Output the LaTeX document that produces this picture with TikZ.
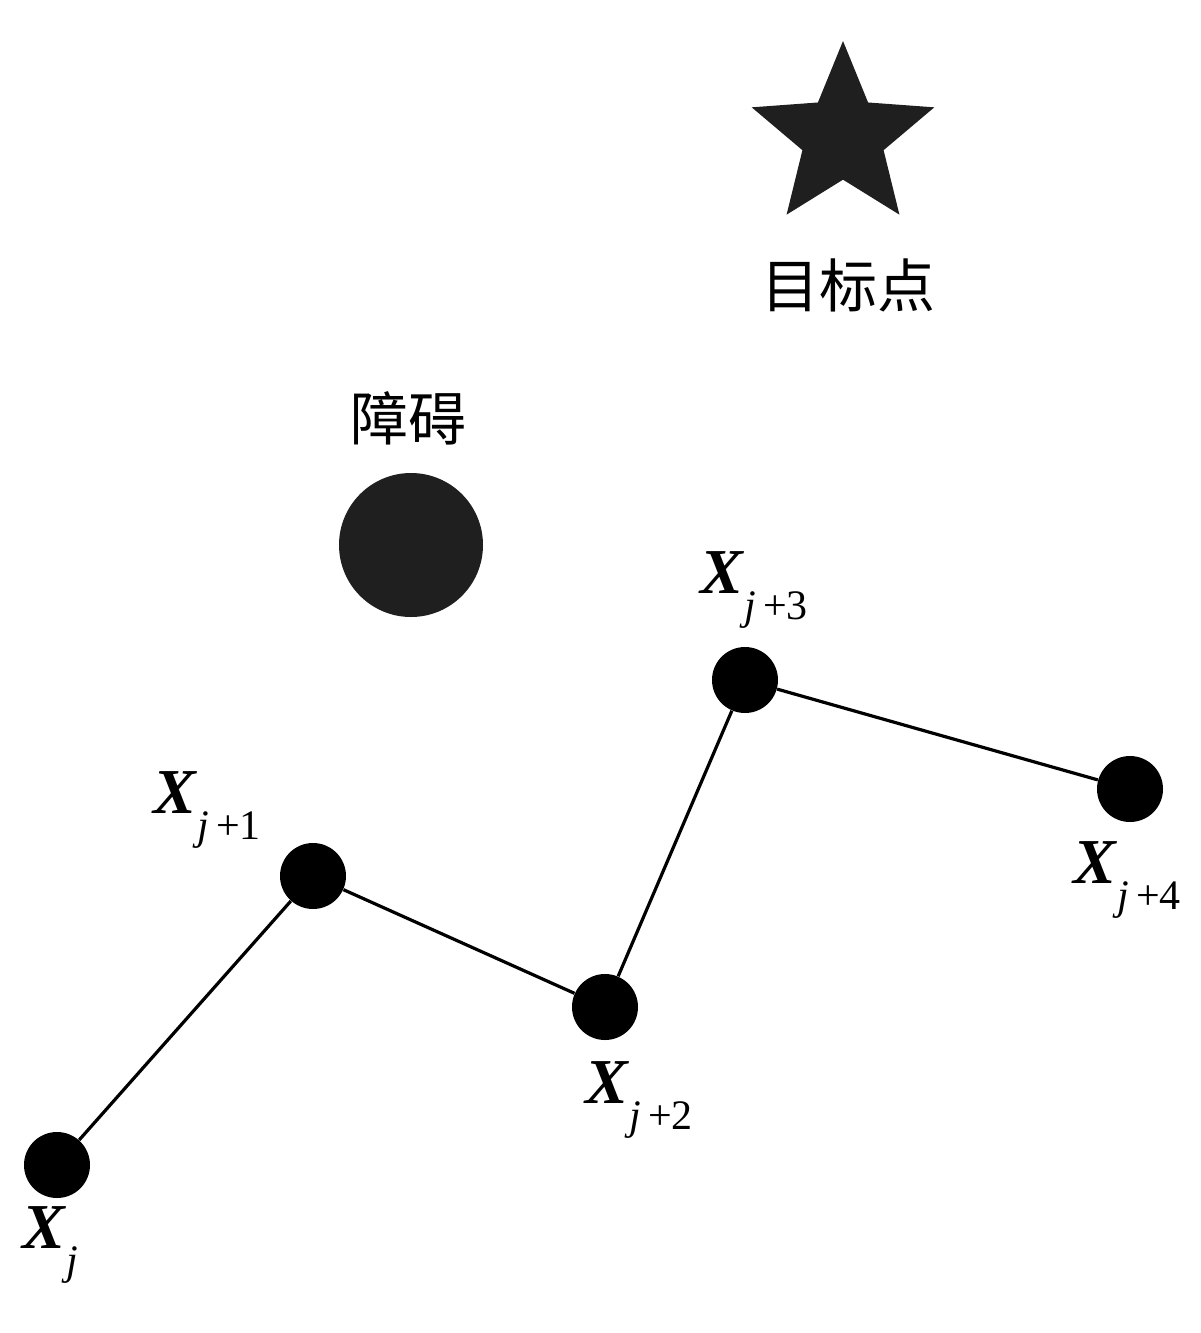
\documentclass[tikz,border=0pt]{standalone}
\usepackage{fontspec}
\setmainfont{Liberation Serif}
\newfontfamily\cjk{Noto Sans CJK SC}
\usetikzlibrary{shapes.geometric}
\tikzset{
  pt/.style={circle,fill=black,inner sep=0pt,minimum size=33pt},
  link/.style={line width=1.6pt,black},
  lab/.style={inner sep=0pt,font=\fontsize{32}{34}\selectfont},
  cjklab/.style={inner sep=0pt,font=\cjk\fontsize{29}{31}\selectfont}
}
\newcommand{\xlab}[1]{\textbf{\textit{X}}\raisebox{-0.4em}{\fontsize{21}{23}\selectfont\textit{j}\,#1}}
\begin{document}
\begin{tikzpicture}[x=0.5pt,y=-0.5pt]
\useasboundingbox (0,0) rectangle (1200,1333);
% target star
\node[star,star points=5,star point ratio=2.25,fill=black!88,inner sep=0pt,minimum size=96pt] (star) at (843,137) {};
\node[cjklab] (tgt) at (848,285) {目标点};
% obstacle
\node[cjklab] (obl) at (408,418) {障碍};
\node[circle,fill=black!88,inner sep=0pt,minimum size=72pt] (obs) at (411,545) {};
% path nodes
\node[pt] (x0) at (57,1165) {};
\node[pt] (x1) at (313,876) {};
\node[pt] (x2) at (605,1007) {};
\node[pt] (x3) at (745,680) {};
\node[pt] (x4) at (1130,789) {};
\draw[link] (x0) -- (x1) -- (x2) -- (x3) -- (x4);
% labels
\node[lab,anchor=west] (l0) at (22,1245) {\xlab{}};
\node[lab,anchor=west] (l1) at (153,810) {\xlab{+1}};
\node[lab,anchor=west] (l2) at (585,1100) {\xlab{+2}};
\node[lab,anchor=west] (l3) at (700,590) {\xlab{+3}};
\node[lab,anchor=west] (l4) at (1073,880) {\xlab{+4}};
\end{tikzpicture}
\end{document}
